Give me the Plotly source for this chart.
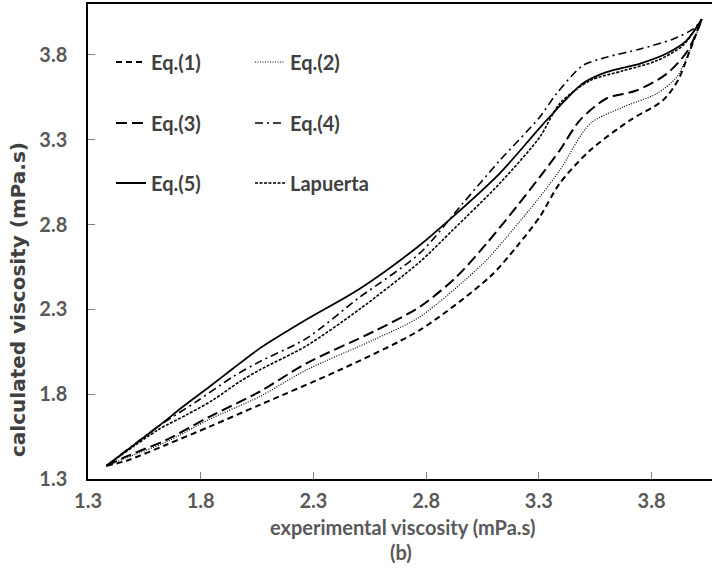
import plotly.graph_objects as go

# ---- data ----
eq1_x = [1.382, 1.471, 1.648, 1.840, 2.062, 2.417, 2.772, 3.083, 3.201, 3.304, 3.393, 3.527, 3.704, 3.850, 3.917, 3.970, 4.023]
eq1_y = [1.378, 1.408, 1.502, 1.609, 1.737, 1.943, 2.178, 2.492, 2.668, 2.845, 3.043, 3.237, 3.414, 3.531, 3.649, 3.825, 4.010]

eq2_x = [1.382, 1.471, 1.648, 1.840, 2.062, 2.269, 2.565, 2.772, 3.053, 3.171, 3.304, 3.393, 3.527, 3.673, 3.822, 3.911, 3.970, 4.023]
eq2_y = [1.378, 1.425, 1.519, 1.653, 1.786, 1.943, 2.119, 2.256, 2.571, 2.747, 2.962, 3.119, 3.394, 3.492, 3.571, 3.668, 3.825, 4.010]

eq3_x = [1.382, 1.471, 1.648, 1.840, 2.062, 2.269, 2.565, 2.772, 2.935, 3.068, 3.201, 3.304, 3.393, 3.482, 3.600, 3.733, 3.867, 3.961, 4.023]
eq3_y = [1.378, 1.433, 1.531, 1.668, 1.815, 1.982, 2.168, 2.315, 2.492, 2.688, 2.904, 3.080, 3.237, 3.414, 3.543, 3.590, 3.688, 3.825, 4.010]

eq4_x = [1.382, 1.611, 1.781, 1.944, 2.062, 2.269, 2.504, 2.772, 2.963, 3.127, 3.304, 3.379, 3.495, 3.600, 3.750, 3.897, 3.987, 4.023]
eq4_y = [1.378, 1.609, 1.756, 1.904, 1.992, 2.129, 2.370, 2.631, 2.925, 3.178, 3.433, 3.572, 3.737, 3.786, 3.835, 3.894, 3.955, 4.010]

eq5_x = [1.382, 1.611, 1.722, 1.840, 1.942, 2.062, 2.269, 2.504, 2.772, 2.918, 3.127, 3.334, 3.495, 3.600, 3.750, 3.867, 3.955, 4.023]
eq5_y = [1.378, 1.609, 1.727, 1.845, 1.950, 2.070, 2.240, 2.420, 2.678, 2.845, 3.102, 3.414, 3.631, 3.698, 3.749, 3.808, 3.884, 4.010]

lap_x = [1.382, 1.611, 1.737, 1.855, 1.973, 2.062, 2.269, 2.504, 2.772, 2.918, 3.127, 3.304, 3.393, 3.527, 3.673, 3.822, 3.939, 4.023]
lap_y = [1.378, 1.590, 1.678, 1.766, 1.874, 1.943, 2.085, 2.300, 2.580, 2.767, 3.043, 3.315, 3.513, 3.648, 3.706, 3.765, 3.855, 4.010]

series_names = ["Eq.(1)", "Eq.(2)", "Eq.(3)", "Eq.(4)", "Eq.(5)", "Lapuerta"]
tick_vals = [1.3, 1.8, 2.3, 2.8, 3.3, 3.8]
tick_text = ["1.3", "1.8", "2.3", "2.8", "3.3", "3.8"]

# ---- styles ----
styles = [
    dict(dash="6px,4px", width=2.0),            # Eq.(1)
    dict(dash="1px,1.5px", width=1.2),          # Eq.(2)
    dict(dash="11px,5px", width=2.0),           # Eq.(3)
    dict(dash="8px,4px,2px,4px", width=1.6),    # Eq.(4)
    dict(dash="solid", width=1.8),              # Eq.(5)
    dict(dash="3px,1.5px", width=1.6),          # Lapuerta
]
xs = [eq1_x, eq2_x, eq3_x, eq4_x, eq5_x, lap_x]
ys = [eq1_y, eq2_y, eq3_y, eq4_y, eq5_y, lap_y]
legend_ids = ["legend", "legend2", "legend3", "legend4", "legend5", "legend6"]

FONT = "Lato, Open Sans, sans-serif"

fig = go.Figure()
for name, x, y, st, lg in zip(series_names, xs, ys, styles, legend_ids):
    fig.add_trace(go.Scatter(
        x=x, y=y, name=name, mode="lines",
        line=dict(color="black", width=st["width"], dash=st["dash"], shape="spline", smoothing=0.8),
        legend=lg, showlegend=True,
    ))

# plot-area geometry in page pixels
L, T, B, W = 88, 4, 479, 624
H = B - T
col_px = [111, 250]
row_px = [62, 123, 183]
pos = [(0, 0), (1, 0), (0, 1), (1, 1), (0, 2), (1, 2)]
legend_layout = {}
for lg, (c, r) in zip(legend_ids, pos):
    legend_layout[lg] = dict(
        x=(col_px[c] - L) / W, y=(B - row_px[r]) / H,
        xanchor="left", yanchor="middle",
        bgcolor="rgba(0,0,0,0)", borderwidth=0,
        itemwidth=30,
        font=dict(family=FONT, size=20, color="#404040", weight="bold"),
    )

fig.update_layout(
    width=712, height=586,
    margin=dict(l=L, r=0, t=T, b=586 - B),
    paper_bgcolor="white", plot_bgcolor="white",
    **legend_layout,
)

fig.update_xaxes(
    range=[1.3, 1.3 + W / 225.4],
    tickvals=tick_vals, ticktext=tick_text,
    ticks="inside", ticklen=7, tickcolor="#808080", tickwidth=1,
    showline=True, linecolor="black", linewidth=2, mirror=True,
    showgrid=False, zeroline=False,
    tickfont=dict(family=FONT, size=20, color="#595959", weight="bold"),
    ticklabelstandoff=3,
)
fig.update_yaxes(
    range=[1.3, 4.1],
    tickvals=tick_vals, ticktext=tick_text,
    ticks="inside", ticklen=7, tickcolor="#808080", tickwidth=1,
    showline=True, linecolor="black", linewidth=1.5,
    showgrid=False, zeroline=False,
    tickfont=dict(family=FONT, size=20, color="#595959", weight="bold"),
    ticklabelstandoff=15,
)

fig.add_annotation(
    text="experimental viscosity (mPa.s)", xref="paper", yref="paper",
    x=(402 - L) / W, y=(B - 527) / H, xanchor="center", yanchor="middle",
    showarrow=False, font=dict(family=FONT, size=20, color="#595959", weight="bold"),
)
fig.add_annotation(
    text="(b)", xref="paper", yref="paper",
    x=(401 - L) / W, y=(B - 552) / H, xanchor="center", yanchor="middle",
    showarrow=False, font=dict(family=FONT, size=20, color="#595959", weight="bold"),
)
fig.add_annotation(
    text="calculated viscosity (mPa.s)", xref="paper", yref="paper",
    x=(18 - L) / W, y=(B - 300) / H, xanchor="center", yanchor="middle", textangle=-90,
    showarrow=False, font=dict(family="DejaVu Sans, Verdana, sans-serif", size=20, color="#404040", weight="bold"),
)

fig.write_html(
    "out.html",
    config={"displayModeBar": False},
    post_script="document.body.style.margin='0';document.body.style.padding='0';",
)
